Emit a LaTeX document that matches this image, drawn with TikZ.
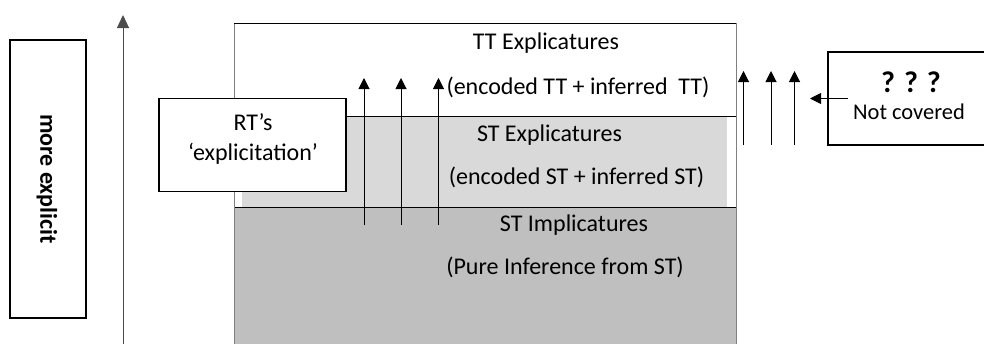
\documentclass[tikz,border=0pt]{standalone}
\usepackage{fontspec}
\setmainfont{Carlito}
\usetikzlibrary{arrows.meta}
\definecolor{lgray}{HTML}{D9D9D9}
\definecolor{dgray}{HTML}{BFBFBF}
\definecolor{edgegray}{HTML}{7F7F7F}
\begin{document}
\begin{tikzpicture}[x=1pt,y=-1pt,
  txt/.style={inner sep=0pt,anchor=base,font=\fontsize{24}{28}\selectfont},
  box/.style={draw=black,line width=1.2pt,fill=white,inner sep=0pt},
  up/.style={line width=1pt,-{Triangle[width=11pt,length=11pt]}}]
\useasboundingbox (0,0) rectangle (984,343);
% layers
\fill[dgray] (234,207) rectangle (736,345);
\fill[lgray] (242,116) rectangle (727,207);
\draw[line width=0.8pt] (234,116) -- (736,116);
\draw[line width=0.8pt] (234,207) -- (736,207);
\draw[edgegray,line width=1pt] (234,345) -- (234,23);
\draw[black,line width=0.8pt] (234,23) -- (736,23);
\draw[edgegray,line width=1pt] (736,23) -- (736,345);
% texts
\node[txt] (tte) at (546,49) {TT Explicatures};
\node[txt] (tti) at (578,94) {(encoded TT + inferred\ \ TT)};
\node[txt] (ste) at (549.5,141) {ST Explicatures};
\node[txt] (sti) at (576.5,184) {(encoded ST + inferred ST)};
\node[txt] (stimp) at (574,231) {ST Implicatures};
\node[txt] (pure) at (565,274) {(Pure Inference from ST)};
% left box
\node[box,minimum width=76pt,minimum height=278pt] (more) at (48,179) {};
\node[txt,anchor=center,rotate=-90,font=\fontsize{24}{28}\selectfont\bfseries] (moret) at (47,179) {more explicit};
% axis arrow
\coordinate (ax0) at (123,345);
\coordinate (ax1) at (123,15);
\draw[edgegray!60!black,line width=1pt,-{Triangle[width=12pt,length=13pt]}] (ax0) -- (ax1);
% RT box
\node[box,minimum width=187pt,minimum height=93pt] (rt) at (252.5,145) {};
\node[txt] (rt1) at (253,130) {RT’s};
\node[txt] (rt2) at (253,160) {‘explicitation’};
% inner arrows
\foreach \i/\x in {a/364,b/401,c/438.5}{
  \coordinate (\i0) at (\x,225);
  \coordinate (\i1) at (\x,78);
  \draw[up] (\i0) -- (\i1);
}
% right arrows
\foreach \i/\x in {d/743.5,e/771,f/794.5}{
  \coordinate (\i0) at (\x,145);
  \coordinate (\i1) at (\x,71);
  \draw[up] (\i0) -- (\i1);
}
% not covered box
\node[box,minimum width=160pt,minimum height=93pt] (nc) at (908,98.5) {};
\node[txt,font=\fontsize{30}{34}\selectfont\bfseries] (q) at (911,92) {? ? ?};
\node[txt,font=\fontsize{22.5}{26}\selectfont] (nct) at (909,119) {Not covered};
\coordinate (nca) at (848,98.5);
\coordinate (ncb) at (810,98.5);
\draw[line width=1pt,-{Triangle[width=11pt,length=11pt]}] (nca) -- (ncb);
\end{tikzpicture}
\end{document}
